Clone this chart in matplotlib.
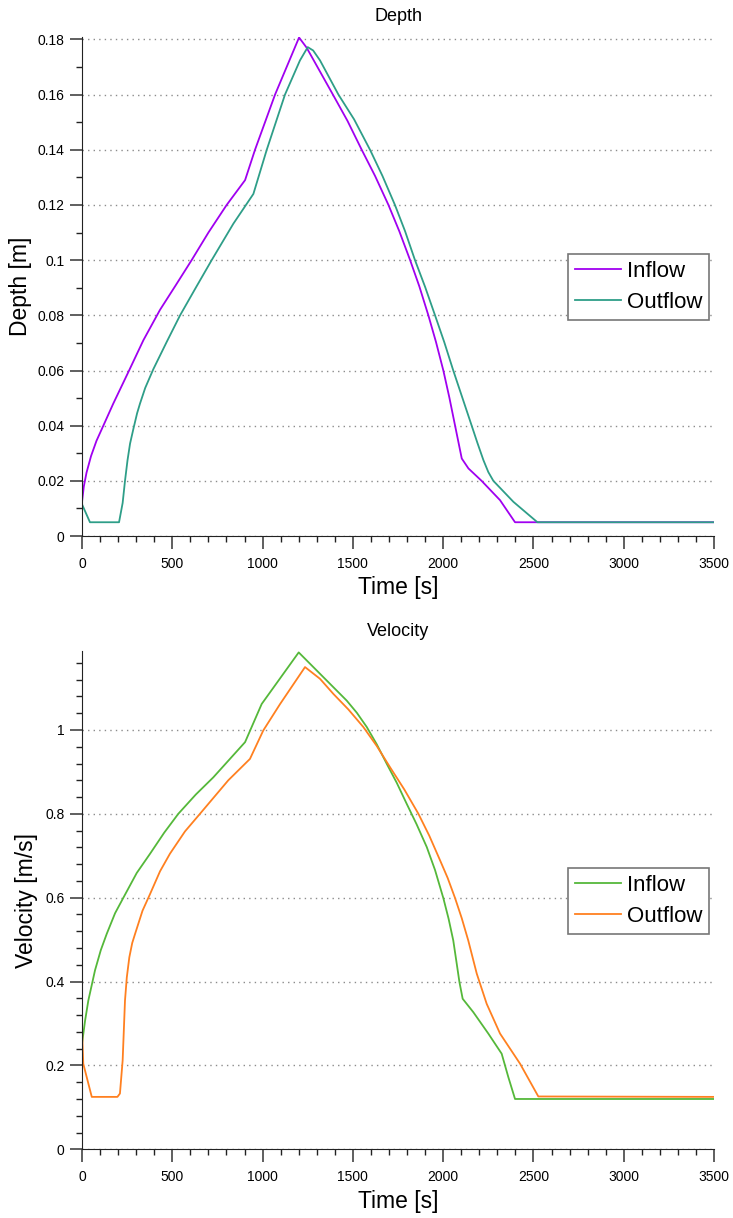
import matplotlib
matplotlib.use('Agg')
import matplotlib.pyplot as plt
from matplotlib.ticker import MultipleLocator, FormatStrFormatter

plt.rcParams['font.family'] = ['Liberation Sans', 'DejaVu Sans']

# Depth data (time [s], depth [m])
depth_in_t = [0, 10, 25, 50, 80, 118, 173, 257, 340, 432, 520, 607, 700, 801, 903, 958, 1069,
              1202, 1244, 1392, 1470, 1549, 1623, 1697, 1757, 1817, 1868, 1918, 1960, 2001,
              2034, 2066, 2103, 2140, 2213, 2315, 2398, 3500]
depth_in_v = [0.0124, 0.018, 0.023, 0.029, 0.0345, 0.040, 0.048, 0.0595, 0.071, 0.082, 0.091,
              0.100, 0.110, 0.120, 0.129, 0.140, 0.160, 0.1807, 0.177, 0.1597, 0.1505, 0.140,
              0.1305, 0.120, 0.1105, 0.100, 0.0905, 0.080, 0.0704, 0.060, 0.0503, 0.040,
              0.0281, 0.0245, 0.020, 0.013, 0.005, 0.005]
depth_out_t = [0, 44, 205, 225, 238, 252, 266, 285, 305, 321, 350, 395, 470, 543, 630, 718, 838,
               949, 1023, 1124, 1207, 1250, 1280, 1318, 1420, 1507, 1595, 1664, 1733, 1789, 1844,
               1900, 1955, 2006, 2056, 2107, 2158, 2190, 2223, 2250, 2278, 2389, 2522, 3500]
depth_out_v = [0.0115, 0.005, 0.005, 0.012, 0.020, 0.0275, 0.0335, 0.039, 0.0445, 0.048, 0.0537,
               0.0605, 0.0705, 0.080, 0.090, 0.100, 0.1132, 0.124, 0.140, 0.160, 0.1724, 0.1772,
               0.1760, 0.1724, 0.160, 0.151, 0.140, 0.1305, 0.120, 0.1105, 0.100, 0.0903, 0.080,
               0.0703, 0.060, 0.050, 0.040, 0.0337, 0.0275, 0.0232, 0.020, 0.0124, 0.005, 0.005]

# Velocity data (time [s], velocity [m/s])
vel_in_t = [0, 17, 35, 72, 104, 137, 183, 229, 303, 377, 455, 533, 630, 727, 815, 903, 995, 1200,
            1318, 1466, 1522, 1577, 1632, 1688, 1743, 1798, 1853, 1909, 1955, 2001, 2030, 2056,
            2075, 2090, 2108, 2167, 2250, 2324, 2361, 2398, 3500]
vel_in_v = [0.252, 0.307, 0.355, 0.427, 0.475, 0.514, 0.563, 0.600, 0.659, 0.705, 0.755, 0.800,
            0.846, 0.887, 0.929, 0.971, 1.062, 1.185, 1.134, 1.070, 1.041, 1.007, 0.966, 0.919,
            0.874, 0.824, 0.775, 0.721, 0.666, 0.599, 0.550, 0.498, 0.443, 0.399, 0.359, 0.327,
            0.276, 0.228, 0.172, 0.120, 0.120]
vel_out_t = [0, 7, 54, 196, 210, 225, 238, 248, 262, 278, 294, 335, 377, 432, 487, 570, 653, 810,
             930, 1004, 1097, 1235, 1318, 1392, 1475, 1558, 1632, 1706, 1785, 1863, 1923, 1983,
             2025, 2066, 2103, 2139, 2186, 2241, 2315, 2426, 2527, 3500]
vel_out_v = [0.285, 0.204, 0.125, 0.125, 0.133, 0.212, 0.355, 0.410, 0.458, 0.492, 0.514, 0.569,
             0.609, 0.663, 0.705, 0.758, 0.800, 0.880, 0.931, 0.999, 1.062, 1.150, 1.122, 1.086,
             1.049, 1.007, 0.962, 0.911, 0.858, 0.800, 0.748, 0.689, 0.647, 0.599, 0.551, 0.498,
             0.419, 0.347, 0.276, 0.204, 0.126, 0.125]

fig = plt.figure(figsize=(7.33, 12.18), dpi=100)
ax1 = fig.add_axes([0.1119, 0.5599, 0.8622, 0.41])
ax2 = fig.add_axes([0.1119, 0.0564, 0.8622, 0.409])


def style(ax, title, ylabel, ymax, ymajor, yminor, fmt, ylpad):
    ax.set_xlim(0, 3500)
    ax.set_ylim(0, ymax)
    ax.set_title(title, fontsize=13, pad=11)
    ax.set_xlabel('Time [s]', fontsize=16.5, labelpad=4)
    ax.set_ylabel(ylabel, fontsize=16.5, labelpad=ylpad)
    ax.xaxis.set_major_locator(MultipleLocator(500))
    ax.xaxis.set_minor_locator(MultipleLocator(100))
    ax.yaxis.set_major_locator(MultipleLocator(ymajor))
    ax.yaxis.set_minor_locator(MultipleLocator(yminor))
    ax.yaxis.set_major_formatter(FormatStrFormatter(fmt))
    ax.xaxis.set_major_formatter(FormatStrFormatter('%g'))
    for s in ['top', 'right']:
        ax.spines[s].set_visible(False)
    for s in ['left', 'bottom']:
        ax.spines[s].set_color('#222222')
    ax.tick_params(which='major', direction='out', length=9, width=1.2, colors='#444444',
                   labelcolor='black', labelsize=10)
    ax.tick_params(which='minor', direction='out', length=4.5, width=1, colors='#222222')
    ax.tick_params(axis='x', which='major', pad=6)
    ax.grid(axis='y', which='major', linestyle=(0, (1, 3)), color='#8c8c8c', linewidth=1)
    ax.set_axisbelow(True)


ax1.plot(depth_in_t, depth_in_v, color='#a000f0', lw=1.3, label='Inflow')
ax1.plot(depth_out_t, depth_out_v, color='#2e9e88', lw=1.3, label='Outflow')
style(ax1, 'Depth', 'Depth [m]', 0.181, 0.02, 0.01, '%g', 4)

ax2.plot(vel_in_t, vel_in_v, color='#55b83a', lw=1.3, label='Inflow')
ax2.plot(vel_out_t, vel_out_v, color='#ff8020', lw=1.3, label='Outflow')
style(ax2, 'Velocity', 'Velocity [m/s]', 1.188, 0.2, 0.04, '%g', 5)

for ax in (ax1, ax2):
    leg = ax.legend(loc='lower right', bbox_to_anchor=(0.992, 0.433), borderaxespad=0,
                    fontsize=16, fancybox=False, framealpha=1, edgecolor='#777777',
                    handlelength=2.1, handletextpad=0.25, borderpad=0.3, labelspacing=0.45)
    leg.get_frame().set_linewidth(1.2)

fig.savefig('out.png', dpi=100)
